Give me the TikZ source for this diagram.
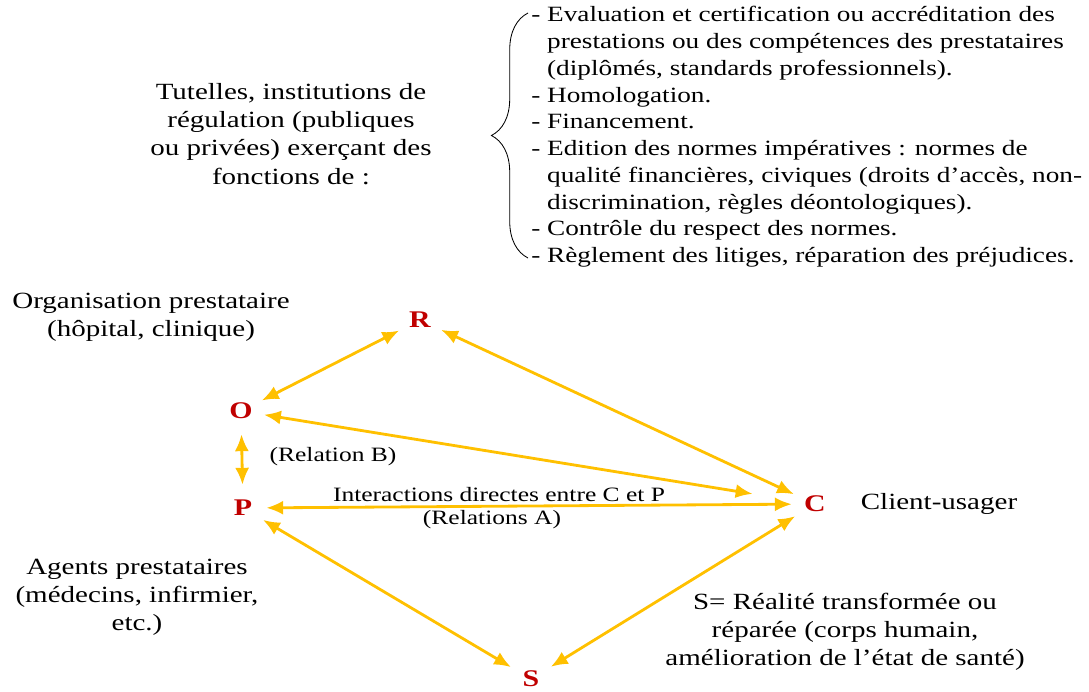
\documentclass[tikz,border=0pt]{standalone}
\usepackage{fontspec}
\setmainfont[FakeStretch=1.25]{Liberation Serif}
\usepackage{tikz}
\usetikzlibrary{arrows.meta,decorations.pathreplacing,positioning}
\definecolor{jaune}{RGB}{255,192,0}
\definecolor{rouge}{RGB}{192,0,0}
\tikzset{
  lettre/.style={circle,inner sep=0pt,minimum size=1.15cm,text=rouge,font=\fontsize{17}{20}\selectfont\bfseries},
  texte/.style={align=center,font=\fontsize{16.5}{20}\selectfont},
  liste/.style={font=\fontsize{15.5}{19}\selectfont},
  petit/.style={align=center,font=\fontsize{14.5}{16}\selectfont},
  relation/.style={draw=jaune,line width=2pt,{Latex[length=12pt,width=10pt]}-{Latex[length=12pt,width=10pt]}},
}
\begin{document}
\begin{tikzpicture}[x=0.025cm,y=-0.025cm]
\useasboundingbox (0,0) rectangle (1089,691);

% fonctions des tutelles
\node[texte] (tutelles) at (291,134) {Tutelles, institutions de\\ régulation (publiques\\ ou privées) exerçant des\\ fonctions de :};
\node[liste,anchor=north west,inner sep=0pt] (fonctions) at (531,3) {%
\begin{tabular}{@{}l@{\ }l@{}}
- & Evaluation et certification ou accréditation des\\
  & prestations ou des compétences des prestataires\\
  & (diplômés, standards professionnels).\\
- & Homologation.\\
- & Financement.\\
- & Edition des normes impératives : normes de\\
  & qualité financières, civiques (droits d’accès, non-\\
  & discrimination, règles déontologiques).\\
- & Contrôle du respect des normes.\\
- & Règlement des litiges, réparation des préjudices.
\end{tabular}};
\draw[line width=0.6pt,decorate,decoration={brace,amplitude=26pt}] (528,258) -- (528,13);

% les acteurs
\node[lettre] (R) at (420,320) {R};
\node[lettre] (O) at (241,411) {O};
\node[lettre] (P) at (243,508) {P};
\node[lettre] (C) at (815,504) {C};
\node[lettre] (S) at (531,679) {S};

\node[texte] (orga) at (151,317) {Organisation prestataire\\ (hôpital, clinique)};
\node[texte] (client) at (939,504) {Client-usager};
\node[texte] (agents) at (137,597) {Agents prestataires\\ (médecins, infirmier,\\ etc.)};
\node[texte] (realite) at (845,632) {S= Réalité transformée ou\\ réparée (corps humain,\\ amélioration de l’état de santé)};

% relations
\draw[relation] (R) -- (O);
\draw[relation] (R) -- (C);
\draw[relation] (O) -- (P);
\draw[relation,shorten >=1cm] (O) -- (C);
\draw[relation] (P) -- (C);
\draw[relation] (P) -- (S);
\draw[relation] (C) -- (S);

\node[petit] (relB) at (333,457) {(Relation B)};
\node[petit] (interA) at (499,495) {Interactions directes entre C et P};
\node[petit] (relA) at (492,520) {(Relations A)};
\end{tikzpicture}
\end{document}
